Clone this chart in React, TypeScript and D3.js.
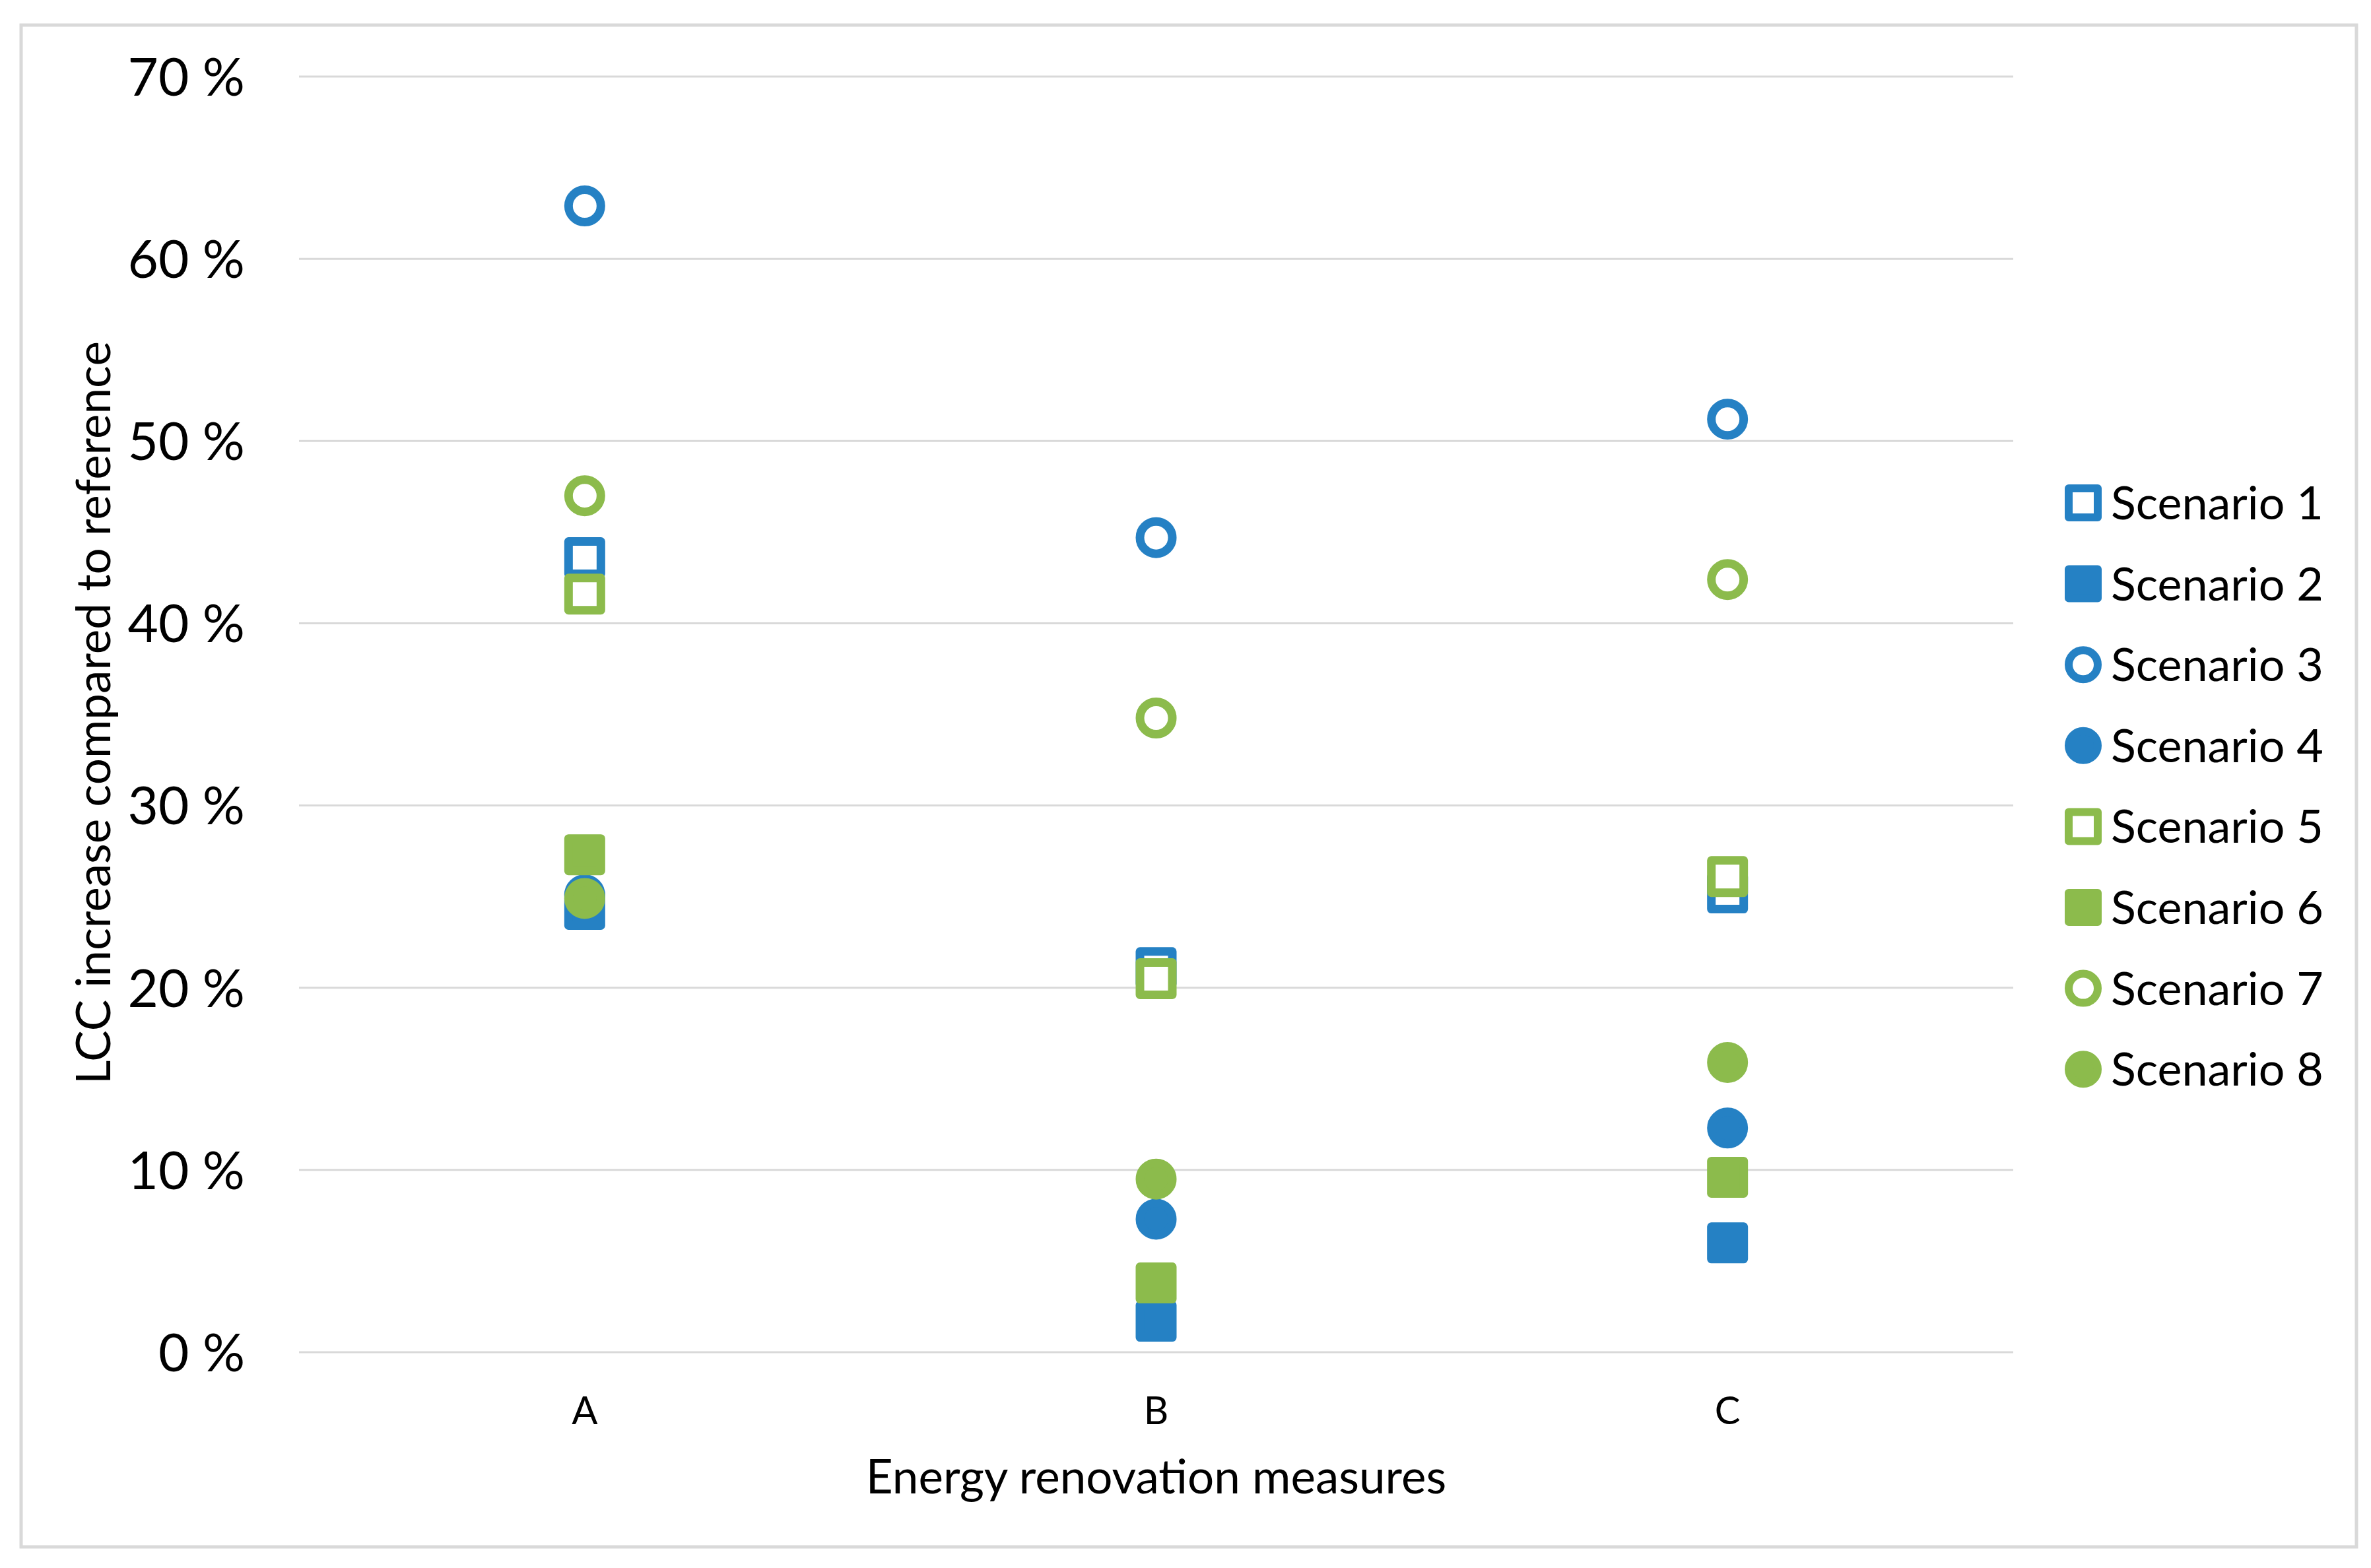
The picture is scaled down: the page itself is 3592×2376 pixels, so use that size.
import React from "react";
import * as d3 from "d3";

const categories = ["A", "B", "C"];
const seriesNames = ["Scenario 1", "Scenario 2", "Scenario 3", "Scenario 4", "Scenario 5", "Scenario 6", "Scenario 7", "Scenario 8"];
const scenario1 = [43.6, 21.1, 25.2];
const scenario2 = [24.3, 1.7, 6.0];
const scenario3 = [62.9, 44.7, 51.2];
const scenario4 = [25.1, 7.3, 12.3];
const scenario5 = [41.6, 20.5, 26.1];
const scenario6 = [27.3, 3.8, 9.6];
const scenario7 = [47.0, 34.8, 42.4];
const scenario8 = [24.9, 9.5, 15.9];
const yTicks = [0, 10, 20, 30, 40, 50, 60, 70];

const BLUE = "#2581c4";
const GREEN = "#8cbb4c";
const seriesValues = [scenario1, scenario2, scenario3, scenario4, scenario5, scenario6, scenario7, scenario8];
const seriesStyle = [
  { color: BLUE, shape: "square", hollow: true },
  { color: BLUE, shape: "square", hollow: false },
  { color: BLUE, shape: "circle", hollow: true },
  { color: BLUE, shape: "circle", hollow: false },
  { color: GREEN, shape: "square", hollow: true },
  { color: GREEN, shape: "square", hollow: false },
  { color: GREEN, shape: "circle", hollow: true },
  { color: GREEN, shape: "circle", hollow: false },
];

const W = 3592;
const H = 2376;
const plotLeft = 453;
const plotRight = 3050;
const plotTop = 116;
const plotBottom = 2049;
const FONT = "Lato, 'Liberation Sans', sans-serif";

function symbolPath(shape: string, side: number) {
  const type = shape === "square" ? d3.symbolSquare : d3.symbolCircle;
  const area = shape === "square" ? side * side : Math.PI * (side / 2) * (side / 2);
  return d3.symbol().type(type).size(area)() as string;
}

export default function App() {
  const x = d3.scaleBand<string>().domain(categories).range([plotLeft, plotRight]);
  const y = d3.scaleLinear().domain([0, 70]).range([plotBottom, plotTop]);
  const markerSide = 49;
  const markerStroke = 13;
  const legendSide = 44;
  const legendStroke = 12;

  return (
    <svg width={W} height={H} style={{ position: "absolute", left: 0, top: 0, background: "#fff" }}>
      <rect x={0} y={0} width={W} height={H} fill="#fff" />
      <rect x={32} y={38} width={3538} height={2306} fill="#fff" stroke="#d9d9d9" strokeWidth={5} />
      {yTicks.map((t) => (
        <g key={t}>
          <line x1={plotLeft} x2={plotRight} y1={y(t)} y2={y(t)} stroke="#d9d9d9" strokeWidth={3} />
          <text x={371} y={y(t)} dy="0.36em" textAnchor="end" fontFamily={FONT} fontSize={80} fill="#000">
            {`${t} %`}
          </text>
        </g>
      ))}
      {categories.map((c) => (
        <text key={c} x={(x(c) as number) + x.bandwidth() / 2} y={2158} textAnchor="middle" fontFamily={FONT} fontSize={58} fill="#000">
          {c}
        </text>
      ))}
      <text x={(plotLeft + plotRight) / 2} y={2263} textAnchor="middle" fontFamily={FONT} fontSize={71} fill="#000">
        Energy renovation measures
      </text>
      <text transform={`translate(167,1080) rotate(-90)`} textAnchor="middle" fontFamily={FONT} fontSize={71} fill="#000">
        LCC increase compared to reference
      </text>
      {seriesValues.map((vals, si) => {
        const st = seriesStyle[si];
        const d = symbolPath(st.shape, markerSide);
        return (
          <g key={si}>
            {vals.map((v, ci) => (
              <path
                key={ci}
                d={d}
                transform={`translate(${(x(categories[ci]) as number) + x.bandwidth() / 2},${y(v)})`}
                fill={st.hollow ? "#fff" : st.color}
                stroke={st.color}
                strokeWidth={markerStroke}
                strokeLinejoin="round"
              />
            ))}
          </g>
        );
      })}
      {seriesNames.map((name, i) => {
        const st = seriesStyle[i];
        const cy = 762 + i * 122.6;
        return (
          <g key={name}>
            <path
              d={symbolPath(st.shape, legendSide)}
              transform={`translate(3156,${cy})`}
              fill={st.hollow ? "#fff" : st.color}
              stroke={st.color}
              strokeWidth={legendStroke}
              strokeLinejoin="round"
            />
            <text x={3198} y={cy + 25} fontFamily={FONT} fontSize={70} fill="#000">
              {name}
            </text>
          </g>
        );
      })}
    </svg>
  );
}
